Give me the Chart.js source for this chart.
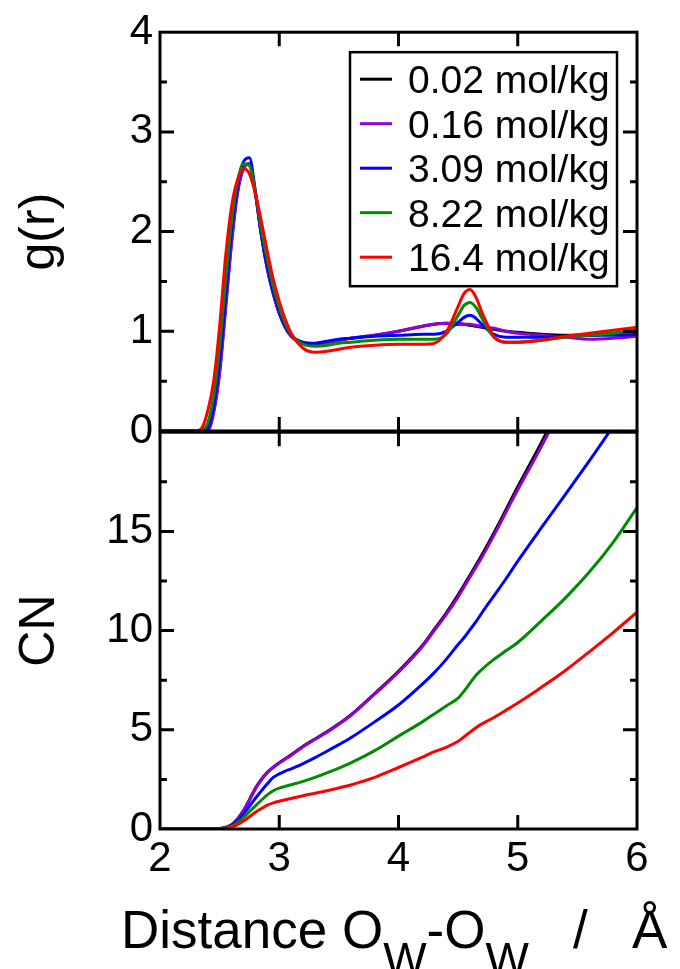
<!DOCTYPE html>
<html>
<head>
<meta charset="utf-8">
<script src="https://cdn.jsdelivr.net/npm/chart.js@4.4.0/dist/chart.umd.min.js"></script>
<style>
  html, body { margin: 0; padding: 0; background: #fff; }
  #wrap { position: relative; width: 680px; height: 969px; overflow: hidden; background: #fff; }
  #grChart { position: absolute; left: 0; top: 0; }
  #cnChart { position: absolute; left: 0; top: 400px; }
</style>
</head>
<body>
<div id="wrap">
  <canvas id="grChart" width="680" height="480"></canvas>
  <canvas id="cnChart" width="680" height="569"></canvas>
</div>
<script>
/* ==============================
   DATA
============================== */

// O_w - O_w distance (Å)
const rGrid = [2.0, 2.3, 2.35, 2.4, 2.45, 2.5, 2.55, 2.6, 2.65, 2.7,
               2.75, 2.8, 2.85, 2.9, 2.95, 3.0, 3.05, 3.1, 3.2, 3.3,
               3.4, 3.5, 3.6, 3.8, 4.0, 4.2, 4.3, 4.4, 4.5, 4.55,
               4.6, 4.65, 4.7, 4.8, 4.9, 5.0, 5.2, 5.4, 5.6, 5.8, 6.0];

const concLabels = ["0.02 mol/kg", "0.16 mol/kg", "3.09 mol/kg", "8.22 mol/kg", "16.4 mol/kg"];
const concColors = ["#000000", "#9400d3", "#0000ff", "#008b00", "#ff0000"];

// g(r)
const gr002 = [0, 0, 0, 0.01, 0.2, 0.6, 1.25, 1.9, 2.4, 2.64,
               2.68, 2.38, 1.97, 1.63, 1.38, 1.18, 1.04, 0.95, 0.88, 0.87,
               0.89, 0.91, 0.93, 0.96, 1.0, 1.05, 1.07, 1.08, 1.07, 1.07,
               1.06, 1.05, 1.04, 1.02, 1.0, 0.99, 0.97, 0.96, 0.96, 0.98, 1.0];
const gr016 = [0, 0, 0, 0, 0.18, 0.58, 1.22, 1.88, 2.38, 2.63,
               2.68, 2.38, 1.96, 1.62, 1.37, 1.18, 1.04, 0.95, 0.88, 0.87,
               0.89, 0.91, 0.93, 0.96, 1.0, 1.05, 1.07, 1.08, 1.08, 1.07,
               1.07, 1.06, 1.05, 1.03, 1.0, 0.98, 0.96, 0.94, 0.92, 0.93, 0.95];
const gr309 = [0, 0, 0, 0.03, 0.25, 0.7, 1.35, 2.0, 2.45, 2.7,
               2.74, 2.4, 1.97, 1.65, 1.4, 1.2, 1.05, 0.96, 0.89, 0.88,
               0.9, 0.92, 0.93, 0.95, 0.96, 0.97, 0.97, 1.0, 1.09, 1.14,
               1.16, 1.13, 1.07, 0.97, 0.94, 0.94, 0.94, 0.95, 0.96, 0.96, 0.97];
const gr822 = [0, 0, 0.01, 0.08, 0.35, 0.85, 1.5, 2.1, 2.5, 2.68,
               2.66, 2.4, 2.02, 1.72, 1.45, 1.24, 1.08, 0.97, 0.87, 0.85,
               0.86, 0.88, 0.89, 0.91, 0.92, 0.92, 0.92, 0.97, 1.16, 1.26,
               1.29, 1.24, 1.13, 0.94, 0.89, 0.89, 0.91, 0.94, 0.96, 0.98, 1.01];
const gr164 = [0, 0, 0.03, 0.2, 0.5, 1.05, 1.75, 2.25, 2.52, 2.63,
               2.58, 2.38, 2.1, 1.8, 1.52, 1.3, 1.12, 0.98, 0.83, 0.79,
               0.8, 0.82, 0.84, 0.86, 0.87, 0.87, 0.88, 0.99, 1.25, 1.38,
               1.42, 1.34, 1.19, 0.95, 0.89, 0.89, 0.91, 0.95, 0.98, 1.01, 1.04];

// running coordination number
const cn002 = [0, 0, 0, 0, 0, 0.02, 0.08, 0.22, 0.5, 0.93,
               1.48, 2.05, 2.5, 2.86, 3.12, 3.34, 3.54, 3.74, 4.17, 4.54,
               4.9, 5.3, 5.75, 6.83, 7.95, 9.25, 10.06, 10.88, 11.8, 12.3,
               12.8, 13.3, 13.82, 14.92, 16.08, 17.25, 19.5, 21.9, 24.5, 27.2, 30.0];
const cn016 = [0, 0, 0, 0, 0, 0.02, 0.07, 0.2, 0.48, 0.9,
               1.45, 2.02, 2.48, 2.84, 3.1, 3.32, 3.52, 3.72, 4.15, 4.52,
               4.88, 5.28, 5.72, 6.8, 7.9, 9.2, 10.0, 10.8, 11.7, 12.2,
               12.7, 13.2, 13.7, 14.8, 15.95, 17.1, 19.3, 21.7, 24.3, 27.0, 29.8];
const cn309 = [0, 0, 0, 0, 0, 0.02, 0.06, 0.17, 0.4, 0.75,
               1.15, 1.55, 1.92, 2.28, 2.6, 2.78, 2.92, 3.03, 3.3, 3.6,
               3.92, 4.25, 4.6, 5.4, 6.25, 7.3, 7.88, 8.55, 9.3, 9.65,
               10.05, 10.45, 10.9, 11.75, 12.6, 13.5, 15.2, 16.87, 18.55, 20.3, 22.1];
const cn822 = [0, 0, 0, 0, 0, 0.01, 0.05, 0.14, 0.32, 0.58,
               0.88, 1.17, 1.45, 1.72, 1.93, 2.06, 2.15, 2.23, 2.4, 2.6,
               2.83, 3.07, 3.33, 3.95, 4.68, 5.4, 5.8, 6.2, 6.6, 6.95,
               7.35, 7.75, 8.05, 8.55, 8.98, 9.4, 10.5, 11.65, 12.95, 14.45, 16.2];
const cn164 = [0, 0, 0, 0, 0, 0.01, 0.04, 0.1, 0.22, 0.4,
               0.62, 0.84, 1.03, 1.2, 1.32, 1.4, 1.47, 1.54, 1.68, 1.8,
               1.93, 2.07, 2.22, 2.6, 3.1, 3.62, 3.9, 4.12, 4.42, 4.65,
               4.88, 5.1, 5.3, 5.62, 5.98, 6.35, 7.15, 7.99, 8.93, 9.9, 10.93];

/* ==============================
   COMMON STUFF
============================== */

const FONT = "'Liberation Sans', Arial, Helvetica, sans-serif";
Chart.defaults.font.family = FONT;
Chart.defaults.color = "#000";

function toPoints(ys) {
    return rGrid.map((x, i) => ({ x: x, y: ys[i] }));
}

function makeDatasets(seriesList, width) {
    return seriesList.map((ys, i) => ({
        label: concLabels[i],
        data: toPoints(ys),
        borderColor: concColors[i],
        backgroundColor: concColors[i],
        borderWidth: width,
        pointRadius: 0,
        fill: false,
        cubicInterpolationMode: "monotone",
        order: seriesList.length - i   // red ends up on top
    }));
}

// box around the plot + inward ticks (major and minor on y)
const framePlugin = {
    id: "frame",
    afterDatasetsDraw(chart) {
        const { ctx, chartArea: a, scales } = chart;
        const major = 14, minor = 7;
        ctx.save();
        ctx.strokeStyle = "#000";
        ctx.lineWidth = 3;
        ctx.beginPath();

        scales.x.ticks.forEach(t => {
            const px = scales.x.getPixelForValue(t.value);
            if (px <= a.left + 1 || px >= a.right - 1) return;
            ctx.moveTo(px, a.top);    ctx.lineTo(px, a.top + major);
            ctx.moveTo(px, a.bottom); ctx.lineTo(px, a.bottom - major);
        });

        const yt = scales.y.ticks;
        yt.forEach((t, i) => {
            const py = scales.y.getPixelForValue(t.value);
            if (py > a.top + 1 && py < a.bottom - 1) {
                ctx.moveTo(a.left, py);  ctx.lineTo(a.left + major, py);
                ctx.moveTo(a.right, py); ctx.lineTo(a.right - major, py);
            }
            if (i > 0) {
                const pm = scales.y.getPixelForValue((yt[i - 1].value + t.value) / 2);
                ctx.moveTo(a.left, pm);  ctx.lineTo(a.left + minor, pm);
                ctx.moveTo(a.right, pm); ctx.lineTo(a.right - minor, pm);
            }
        });
        ctx.stroke();
        ctx.strokeRect(a.left, a.top, a.right - a.left, a.bottom - a.top);
        ctx.restore();
    }
};

// legend box inside the g(r) panel
const legendBoxPlugin = {
    id: "legendBox",
    afterDatasetsDraw(chart) {
        const { ctx, chartArea: a } = chart;
        const boxX = a.left + 190, boxY = a.top + 20, boxW = 267, boxH = 234;
        const size = 39;
        ctx.save();
        ctx.fillStyle = "#fff";
        ctx.fillRect(boxX, boxY, boxW, boxH);
        ctx.lineWidth = 2.5;
        ctx.strokeStyle = "#000";
        ctx.strokeRect(boxX, boxY, boxW, boxH);
        ctx.font = size + "px " + FONT;
        ctx.textBaseline = "alphabetic";
        ctx.textAlign = "left";
        chart.data.datasets.forEach((ds, i) => {
            const rowY = boxY + 27 + i * 44.5;
            ctx.strokeStyle = ds.borderColor;
            ctx.lineWidth = 3;
            ctx.beginPath();
            ctx.moveTo(boxX + 10, rowY);
            ctx.lineTo(boxX + 42, rowY);
            ctx.stroke();
            ctx.fillStyle = "#000";
            ctx.fillText(ds.label, boxX + 58, rowY + size * 0.358);
        });
        ctx.restore();
    }
};

// x title with subscripts: Distance O_W-O_W  /  Å
const xTitlePlugin = {
    id: "xTitle",
    afterDraw(chart) {
        const ctx = chart.ctx;
        const base = chart.chartArea.bottom + 119;
        const big = "53px " + FONT, small = "46px " + FONT;
        const parts = [
            ["Distance O", big, 0],
            ["W", small, 27],
            ["-O", big, 0],
            ["W", small, 27],
            ["   /   \u00C5", big, 0]
        ];
        let x = 121;
        ctx.save();
        ctx.fillStyle = "#000";
        ctx.textAlign = "left";
        ctx.textBaseline = "alphabetic";
        parts.forEach(([txt, font, dy]) => {
            ctx.font = font;
            ctx.fillText(txt, x, base + dy);
            x += ctx.measureText(txt).width;
        });
        ctx.restore();
    }
};

const tickFont = { size: 42 };
const titleFont = { size: 50 };

/* ==============================
   g(r) PANEL
============================== */

new Chart(document.getElementById("grChart"), {
    type: "line",
    data: { datasets: makeDatasets([gr002, gr016, gr309, gr822, gr164], 3) },
    options: {
        responsive: false,
        animation: false,
        layout: { padding: { top: 32, right: 43, bottom: 49, left: 0 } },
        plugins: { legend: { display: false }, tooltip: { enabled: false } },
        scales: {
            x: {
                type: "linear", min: 2, max: 6,
                ticks: { display: false, stepSize: 1 },
                grid: { display: false }, border: { display: false },
                afterFit: s => { s.height = 0; }
            },
            y: {
                min: 0, max: 4,
                ticks: { stepSize: 1, font: tickFont, padding: 7 },
                grid: { display: false, drawTicks: false }, border: { display: false },
                title: { display: true, text: "g(r)", font: titleFont, padding: { top: 10, bottom: 0 } },
                afterFit: s => { s.width = 160; }
            }
        }
    },
    plugins: [framePlugin, legendBoxPlugin]
});

/* ==============================
   CN PANEL
============================== */

new Chart(document.getElementById("cnChart"), {
    type: "line",
    data: { datasets: makeDatasets([cn002, cn016, cn309, cn822, cn164], 3) },
    options: {
        responsive: false,
        animation: false,
        layout: { padding: { top: 31, right: 43, bottom: 0, left: 0 } },
        plugins: { legend: { display: false }, tooltip: { enabled: false } },
        scales: {
            x: {
                type: "linear", min: 2, max: 6,
                ticks: { stepSize: 1, font: tickFont, padding: 5 },
                grid: { display: false, drawTicks: false }, border: { display: false },
                afterFit: s => { s.height = 140; }
            },
            y: {
                min: 0, max: 20,
                ticks: {
                    stepSize: 5, font: tickFont, padding: 7, autoSkip: false,
                    callback: v => (v === 20 ? "" : v)
                },
                grid: { display: false, drawTicks: false }, border: { display: false },
                title: { display: true, text: "CN", font: titleFont, padding: { top: 10, bottom: 0 } },
                afterFit: s => { s.width = 160; }
            }
        }
    },
    plugins: [framePlugin, xTitlePlugin]
});
</script>
</body>
</html>
